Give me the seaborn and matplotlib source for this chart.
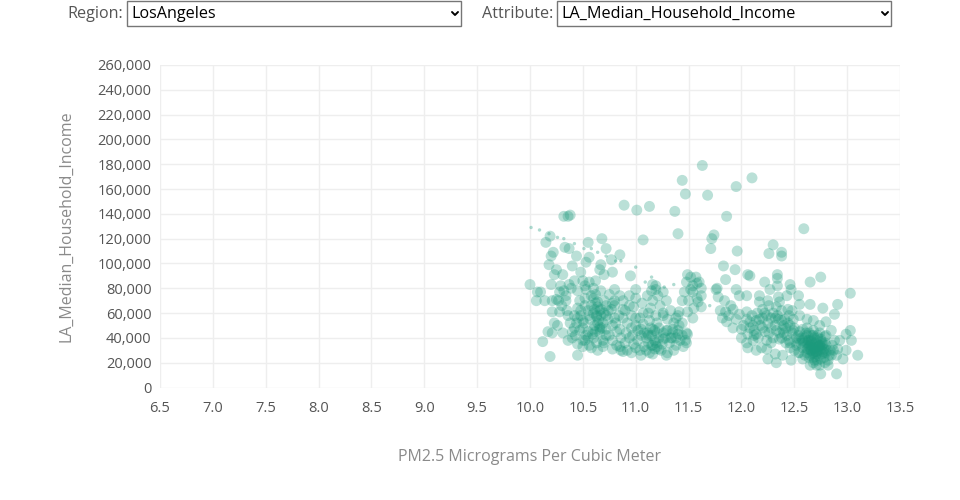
import matplotlib
matplotlib.use("Agg")
import matplotlib.pyplot as plt
import seaborn as sns
import pandas as pd
from matplotlib.patches import Rectangle
from matplotlib.lines import Line2D

# ---------------- data ----------------
region_label = "Region:"
region_value = "LosAngeles"
attribute_label = "Attribute:"
attribute_value = "LA_Median_Household_Income"
x_title = "PM2.5 Micrograms Per Cubic Meter"
y_title = "LA_Median_Household_Income"
x_ticks = [6.5, 7.0, 7.5, 8.0, 8.5, 9.0, 9.5, 10.0, 10.5, 11.0, 11.5, 12.0, 12.5, 13.0, 13.5]
y_ticks = list(range(0, 260001, 20000))

# main tracts: (PM2.5, median household income in thousands)
pm25 = [
    11.63, 11.44, 11.47, 11.68, 10.89, 11.01, 11.13, 11.37, 10.32, 10.36, 10.38, 11.40, 11.74, 11.72,
    11.71, 11.07, 10.19, 10.15, 10.55, 10.68, 10.72, 10.85, 10.33, 10.37, 10.22, 10.20, 10.18, 10.44,
    10.56, 10.53, 10.77, 10.67, 10.25, 10.23, 10.31, 10.40, 10.48, 10.66, 10.70, 10.78, 10.95, 10.00,
    10.07, 10.10, 10.06, 10.14, 10.20, 10.29, 10.37, 10.42, 10.50, 10.56, 10.62, 10.28, 10.34, 10.25,
    10.21, 10.34, 10.47, 10.53, 10.58, 10.64, 10.61, 10.67, 10.63, 10.56, 10.51, 10.45, 10.42, 10.47,
    10.53, 10.59, 10.66, 10.72, 10.75, 10.69, 10.63, 10.56, 10.50, 10.43, 10.36, 10.31, 10.26, 10.21,
    10.28, 10.23, 10.17, 10.21, 10.12, 10.45, 10.69, 10.78, 10.85, 10.88, 10.81, 10.88, 10.80, 10.85,
    10.80, 10.88, 10.94, 11.00, 10.94, 10.88, 10.77, 10.72, 10.85, 10.91, 10.96, 11.00, 11.07, 11.11,
    11.16, 11.19, 11.21, 11.16, 11.23, 11.29, 11.26, 11.19, 11.13, 11.07, 11.02, 10.97, 11.05, 11.11,
    11.16, 11.22, 11.29, 11.35, 11.41, 11.48, 11.40, 11.33, 11.26, 11.19, 11.15, 11.18, 11.13, 11.05,
    11.29, 11.22, 11.38, 11.48, 11.49, 11.49, 11.52, 11.57, 11.48, 11.54, 11.60, 11.46, 11.54, 11.62,
    11.44, 11.50, 11.59, 11.41, 11.49, 11.54, 11.38, 11.44, 11.76, 11.26, 11.19, 11.15, 11.00, 10.19,
    # right group
    12.10, 11.95, 11.86, 12.59, 11.96, 12.30, 12.38, 12.38, 12.26, 11.83, 11.94, 12.06, 12.08, 12.34,
    12.34, 12.75, 12.65, 11.85, 11.77, 11.95, 12.22, 12.34, 12.46, 12.47, 12.43, 12.35, 12.27, 12.17,
    13.03, 11.98, 12.05, 11.85, 11.86, 11.92, 11.98, 12.05, 12.08, 12.17, 12.25, 12.36, 12.44, 12.54,
    12.55, 12.65, 12.77, 12.91, 12.88, 12.80, 12.74, 12.68, 12.62, 12.55, 12.49, 12.41, 12.32, 12.24,
    12.17, 12.11, 12.00, 12.06, 12.14, 12.05, 12.06, 12.14, 12.24, 12.25, 12.33, 12.28, 12.36, 12.43,
    12.46, 12.52, 12.55, 12.62, 12.68, 12.71, 12.74, 12.69, 12.65, 12.69, 12.74, 12.75, 12.65, 12.82,
    12.90, 12.85, 12.91, 12.96, 12.99, 12.93, 12.99, 13.03, 13.04, 12.85, 12.80, 13.10, 12.47, 12.39,
    12.32, 12.19, 12.11, 12.00, 12.39, 12.33, 12.49, 12.58, 12.65, 12.62, 12.58, 12.54, 12.58, 12.71,
    12.77, 12.76, 12.79, 12.72, 12.66, 12.63,
    # dense cores
    10.60, 10.62, 10.64, 10.66, 10.60, 10.63, 10.65, 10.58, 10.61, 10.67, 10.55, 10.70, 10.57, 10.69,
    10.62, 10.52, 10.48, 10.45, 10.72, 10.74, 10.50, 10.55, 10.66, 10.60, 10.70, 10.52, 10.58, 10.64,
    10.40, 10.38, 10.42, 10.35, 10.30, 10.27, 10.32, 10.39, 10.45, 10.52, 10.60, 10.67, 10.75, 10.80,
    11.00, 11.05, 11.10, 11.12, 11.15, 11.18, 11.20, 11.25, 11.28, 11.32, 11.35, 11.38, 11.42, 11.45,
    11.08, 11.02, 10.98, 10.94, 10.92, 10.96, 11.04, 11.12, 11.20, 11.30, 11.36, 11.40, 11.24, 11.30,
    11.36, 11.16, 11.10, 10.90, 10.86, 10.82, 10.78, 10.84, 10.90, 10.98, 11.06, 11.14, 11.33, 11.26,
    12.60, 12.62, 12.64, 12.66, 12.68, 12.70, 12.72, 12.74, 12.76, 12.78, 12.80, 12.70, 12.66, 12.72,
    12.76, 12.80, 12.84, 12.62, 12.58, 12.56, 12.64, 12.68, 12.72, 12.78, 12.82, 12.86, 12.88, 12.90,
    12.74, 12.68, 12.62, 12.66, 12.70, 12.73, 12.67, 12.75, 12.79, 12.64, 12.60, 12.55, 12.52, 12.48,
    12.45, 12.42, 12.50,
    12.15, 12.20, 12.25, 12.30, 12.35, 12.40, 12.45, 12.28, 12.22, 12.18, 12.12, 12.38, 12.33, 12.26,
    12.20, 12.10, 12.05, 12.02, 12.44, 12.48, 12.36, 12.30, 12.24, 12.16,
    11.58, 11.62, 11.55, 11.52, 11.58, 11.62, 11.80, 11.84, 11.88, 11.90, 11.95, 11.78, 11.92, 11.82,
    # extra density
    10.40, 10.45, 10.50, 10.55, 10.62, 10.68, 10.72, 10.78, 10.82, 10.86, 10.92, 10.96, 11.00, 11.04,
    11.08, 11.14, 11.18, 11.22, 11.26, 11.30, 11.34, 11.40, 11.44, 11.47, 11.12, 11.16, 11.20, 10.48,
    10.74, 10.80, 10.44, 10.52, 10.70, 10.36, 10.78, 10.50, 10.64, 10.60, 10.66,
    12.62, 12.64, 12.66, 12.68, 12.70, 12.72, 12.74, 12.76, 12.78, 12.68, 12.65, 12.71, 12.73, 12.69,
    12.63, 12.77, 12.81, 12.59, 12.57, 12.61, 12.67, 12.75, 12.79, 12.71, 12.83, 12.87, 12.55, 12.50,
    12.46, 12.40, 12.38, 12.42, 12.46, 12.52, 12.54,
    12.20, 12.26, 12.32, 12.38, 12.14, 12.08, 12.12, 12.22, 12.28, 12.34,
]
income_k = [
    179, 167, 156, 155, 147, 143, 146, 142, 138, 138, 139, 124, 123, 120,
    112, 119, 122, 117, 117, 120, 112, 107, 113, 112, 109, 106, 99, 106,
    105, 101, 103, 99, 95, 91, 91, 98, 93, 95, 91, 93, 90, 83,
    77, 77, 70, 70, 83, 82, 83, 86, 86, 85, 86, 77, 74, 71,
    70, 70, 70, 79, 74, 69, 63, 63, 58, 58, 52, 56, 48, 46,
    42, 43, 47, 47, 42, 38, 36, 34, 38, 42, 38, 44, 50, 61,
    61, 52, 45, 44, 37, 26, 33, 31, 33, 29, 52, 56, 79, 74,
    70, 70, 74, 79, 66, 63, 63, 58, 47, 44, 48, 56, 60, 74,
    83, 79, 74, 70, 66, 70, 60, 58, 54, 51, 46, 42, 42, 44,
    47, 48, 46, 47, 50, 44, 43, 40, 39, 36, 34, 31, 28, 26,
    26, 31, 34, 36, 43, 91, 89, 89, 85, 82, 85, 77, 77, 74,
    70, 70, 69, 61, 61, 56, 56, 52, 79, 77, 82, 78, 72, 25,
    # right group
    169, 162, 138, 128, 110, 115, 109, 106, 108, 98, 95, 91, 90, 91,
    88, 89, 85, 87, 80, 79, 85, 82, 83, 79, 74, 73, 79, 74,
    76, 74, 74, 61, 53, 63, 59, 61, 53, 69, 70, 69, 63, 74,
    67, 67, 64, 67, 59, 53, 50, 54, 55, 58, 55, 55, 56, 58,
    55, 50, 47, 43, 43, 36, 32, 30, 31, 23, 20, 36, 39, 42,
    36, 34, 39, 42, 42, 38, 34, 31, 26, 22, 18, 11, 18, 18,
    11, 26, 31, 23, 30, 38, 43, 46, 38, 46, 42, 26, 22, 26,
    27, 32, 38, 40, 47, 46, 46, 47, 34, 31, 38, 28, 23, 29,
    29, 34, 36, 42, 37, 38,
    # dense cores
    72, 68, 65, 62, 60, 57, 54, 66, 50, 58, 62, 60, 55, 52,
    75, 66, 62, 64, 66, 55, 48, 45, 44, 40, 36, 38, 32, 30,
    45, 52, 58, 62, 66, 70, 78, 80, 78, 82, 80, 78, 75, 66,
    50, 47, 40, 36, 42, 38, 44, 35, 40, 36, 44, 40, 38, 33,
    33, 38, 35, 40, 52, 58, 56, 60, 52, 55, 52, 58, 30, 28,
    30, 27, 30, 36, 40, 45, 50, 58, 62, 65, 68, 64, 62, 58,
    40, 36, 33, 30, 28, 32, 35, 30, 27, 31, 28, 25, 38, 40,
    37, 34, 30, 28, 32, 36, 24, 20, 22, 24, 22, 34, 38, 26,
    44, 46, 48, 42, 29, 33, 35, 39, 41, 44, 26, 28, 40, 44,
    38, 48, 30,
    60, 56, 52, 60, 55, 50, 58, 48, 45, 50, 46, 62, 65, 66,
    63, 58, 55, 50, 52, 62, 44, 40, 38, 40,
    72, 65, 64, 79, 84, 80, 62, 70, 58, 66, 55, 73, 48, 56,
    # extra density
    40, 35, 33, 40, 45, 48, 42, 38, 34, 30, 30, 28, 32, 30,
    44, 48, 46, 40, 44, 46, 40, 46, 42, 38, 42, 34, 33, 58,
    62, 56, 52, 72, 70, 58, 68, 54, 52, 47, 49,
    34, 38, 34, 32, 36, 30, 34, 32, 28, 24, 30, 27, 26, 40,
    31, 35, 30, 36, 40, 44, 27, 23, 20, 18, 26, 30, 45, 48,
    50, 44, 40, 36, 32, 36, 42,
    48, 44, 50, 54, 54, 48, 42, 60, 56, 58,
]

# small tracts (drawn with smaller markers)
pm25_small = [10.01, 10.09, 10.18, 10.26, 10.32, 10.42, 10.51, 10.58, 10.64, 10.72, 10.81, 10.86,
              11.00, 11.09, 11.15, 11.27, 11.36, 11.70]
income_small_k = [129, 127, 124, 121, 120, 116, 112, 112, 109, 106, 102, 102,
                  97, 85, 89, 81, 83, 66]

income = [v * 1000 for v in income_k]
income_small = [v * 1000 for v in income_small_k]
df = pd.DataFrame({"pm25": pm25, "income": income})
df_small = pd.DataFrame({"pm25": pm25_small, "income": income_small})

# ---------------- style ----------------
sns.set_theme(style="white")
plt.rcParams["font.family"] = ["Open Sans", "DejaVu Sans"]

W, H = 960, 500
fig = plt.figure(figsize=(W / 100, H / 100), dpi=100)
ax = fig.add_axes([160 / W, (H - 387.5) / H, 740 / W, 322.5 / H])

point_color = "#1b9a7c"
sns.scatterplot(data=df, x="pm25", y="income", ax=ax, color=point_color, alpha=0.3,
                s=62, linewidth=0, edgecolor="none", zorder=3)
sns.scatterplot(data=df_small, x="pm25", y="income", ax=ax, color=point_color, alpha=0.35,
                s=6, linewidth=0, edgecolor="none", zorder=3)

ax.set_xlim(6.5, 13.5)
ax.set_ylim(0, 260000)
ax.set_xticks(x_ticks)
ax.set_yticks(y_ticks)
ax.set_xticklabels([f"{t:.1f}" for t in x_ticks])
ax.set_yticklabels([f"{t:,}" for t in y_ticks])
ax.grid(True, color="#eeeeee", linewidth=1)
ax.set_axisbelow(True)
for s in ax.spines.values():
    s.set_visible(False)
ax.tick_params(axis="both", length=0, labelsize=10.5, colors="#555555")
ax.tick_params(axis="x", pad=10)
ax.tick_params(axis="y", pad=6)
ax.set_xlabel("")
ax.set_ylabel("")

fig.text(530 / W, 1 - 457 / H, x_title, ha="center", va="center", fontsize=11.5, color="#8a8a8a")
fig.text(66 / W, 1 - 226 / H, y_title, ha="center", va="center", rotation=90,
         fontsize=11.5, color="#8a8a8a")


# ---------------- dropdown controls ----------------
def dropdown(label, value, x0, x1, label_right):
    y0, y1 = 1, 26
    fig.add_artist(Rectangle((x0 / W, 1 - y1 / H), (x1 - x0) / W, (y1 - y0) / H,
                             transform=fig.transFigure, facecolor="white",
                             edgecolor="#767676", linewidth=1))
    fig.text(label_right / W, 1 - 14 / H, label, ha="right", va="center",
             fontsize=11.6, color="#555555")
    fig.text((x0 + 4) / W, 1 - 14 / H, value, ha="left", va="center",
             fontsize=11.6, color="#000000")
    cx = x1 - 6
    fig.add_artist(Line2D([(cx - 3) / W, cx / W, (cx + 3) / W],
                          [1 - 12 / H, 1 - 15 / H, 1 - 12 / H],
                          transform=fig.transFigure, color="#000000", linewidth=1.4))


dropdown(region_label, region_value, 127, 461, 123)
dropdown(attribute_label, attribute_value, 557, 891, 553)

fig.savefig("out.png", dpi=100, facecolor="white")
